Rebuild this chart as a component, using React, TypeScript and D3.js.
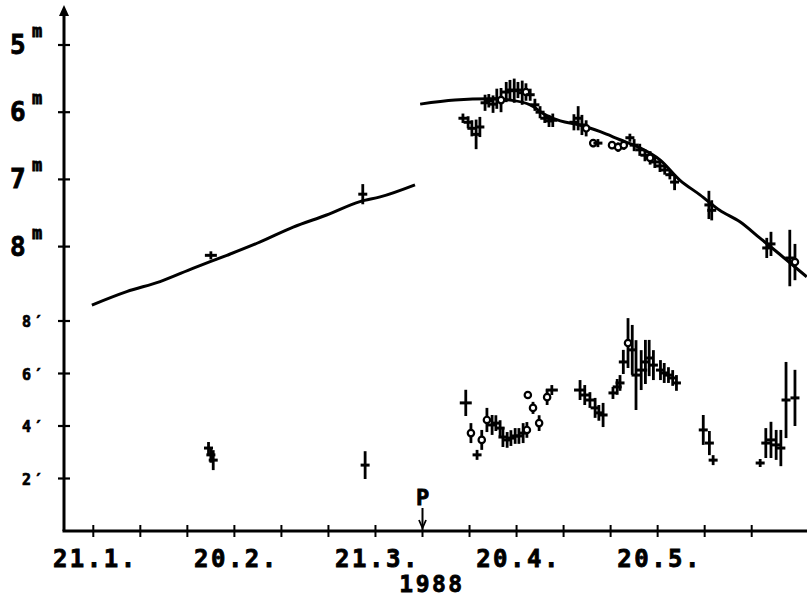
import React from "react";
import * as d3 from "d3";

// Day of year 1988 (1 = 1 Jan). Ticks every 10 days from 21 Jan.
const tickDays = [21, 31, 41, 51, 61, 71, 81, 91, 101, 111, 121, 131, 141, 151, 161];
const labelDays = [21, 51, 81, 111, 141];
const labelTexts = ["21.1.", "20.2.", "21.3.", "20.4.", "20.5."];
const perihelionDay = 91;

const magTicks = [5, 6, 7, 8];
const diamTicks = [2, 4, 6, 8];

// Fitted light curve, pre-perihelion branch
const fit1Day = [20.7, 28.1, 35.2, 42.3, 49.4, 56.5, 63.5, 70.6, 77.7, 82.0, 89.4];
const fit1Mag = [8.87, 8.67, 8.52, 8.32, 8.13, 7.93, 7.71, 7.53, 7.33, 7.26, 7.08];
// post-perihelion branch
const fit2Day = [90.5, 97.9, 105.4, 109.6, 113.9, 117.1, 120.3, 124.5, 128.8, 133.0, 137.2, 141.5, 145.7, 150.0, 154.2, 158.5, 162.7, 166.9, 172.7];
const fit2Mag = [5.88, 5.82, 5.80, 5.82, 5.89, 6.04, 6.13, 6.19, 6.29, 6.41, 6.53, 6.71, 7.01, 7.23, 7.46, 7.63, 7.87, 8.11, 8.45];

// Magnitude observations
const magDay = [46.0, 78.3, 99.6, 100.7, 101.5, 102.4, 103.2, 104.3, 105.1, 106.0, 106.8, 107.7, 108.8, 109.6, 110.5, 111.3, 112.2, 113.0, 113.9, 114.9, 116.0, 117.0, 117.9, 118.7, 123.2, 124.1, 124.9, 125.8, 127.3, 128.3, 131.3, 132.6, 133.8, 135.1, 136.0, 137.2, 138.3, 139.4, 140.4, 141.5, 142.5, 143.6, 144.6, 151.9, 152.5, 164.2, 165.1, 169.1, 170.2];
const magVal = [8.13, 7.22, 6.09, 6.15, 6.24, 6.33, 6.22, 5.86, 5.83, 5.88, 5.80, 5.82, 5.70, 5.67, 5.68, 5.67, 5.71, 5.70, 5.74, 5.89, 6.00, 6.09, 6.13, 6.12, 6.15, 6.09, 6.19, 6.24, 6.46, 6.46, 6.49, 6.52, 6.49, 6.38, 6.49, 6.56, 6.64, 6.68, 6.74, 6.80, 6.86, 6.93, 7.04, 7.38, 7.46, 8.02, 7.96, 8.17, 8.23];
const magErr = [0.06, 0.15, 0.07, 0.09, 0.12, 0.22, 0.15, 0.12, 0.10, 0.13, 0.15, 0.18, 0.15, 0.15, 0.18, 0.12, 0.18, 0.13, 0.09, 0.09, 0.09, 0.07, 0.09, 0.10, 0.12, 0.18, 0.15, 0.12, 0.06, 0.06, 0.06, 0.07, 0.07, 0.06, 0.09, 0.09, 0.09, 0.10, 0.09, 0.09, 0.07, 0.07, 0.12, 0.21, 0.15, 0.15, 0.18, 0.42, 0.27];
const magSym = "Cccccccccccocccccocccccccccoocoooccccocccccccccco";

// Coma diameter observations (arcmin)
const diamDay = [45.5, 46.0, 46.5, 78.8, 100.2, 101.3, 102.6, 103.6, 104.7, 105.8, 106.6, 107.5, 108.1, 109.0, 109.8, 110.7, 111.5, 112.4, 113.2, 113.4, 114.5, 115.8, 117.5, 118.5, 124.5, 125.5, 126.6, 127.7, 128.5, 129.4, 131.5, 132.4, 133.0, 133.7, 134.7, 135.6, 136.4, 137.5, 138.4, 139.2, 140.1, 141.6, 142.4, 143.3, 144.2, 145.0, 150.7, 152.0, 152.8, 162.8, 164.0, 165.1, 166.2, 167.2, 168.3, 170.2];
const diamVal = [3.16, 2.90, 2.70, 2.51, 4.88, 3.73, 2.90, 3.47, 4.23, 4.04, 4.11, 3.92, 3.58, 3.47, 3.54, 3.62, 3.62, 3.73, 3.85, 5.18, 4.69, 4.11, 5.10, 5.37, 5.37, 5.18, 4.99, 4.69, 4.50, 4.42, 5.26, 5.49, 5.64, 6.44, 7.16, 6.90, 5.94, 6.13, 6.44, 6.59, 6.32, 6.13, 6.02, 5.94, 5.83, 5.64, 3.85, 3.35, 2.70, 2.59, 3.35, 3.47, 3.28, 3.16, 4.99, 5.07];
const diamErr = [0.23, 0.30, 0.38, 0.53, 0.50, 0.38, 0.19, 0.38, 0.46, 0.38, 0.30, 0.30, 0.38, 0.30, 0.30, 0.30, 0.30, 0.38, 0.30, 0.15, 0.23, 0.30, 0.30, 0.19, 0.38, 0.38, 0.30, 0.38, 0.30, 0.46, 0.23, 0.30, 0.30, 0.46, 0.95, 0.95, 1.33, 0.76, 0.84, 0.69, 0.57, 0.38, 0.38, 0.30, 0.30, 0.30, 0.57, 0.46, 0.19, 0.15, 0.57, 0.69, 0.57, 0.69, 1.45, 1.07];
const diamSym = "ccccCocoocccccccccoooooCCcccccccccoccCcccccccccccccccccccC";

const FONT = "'DejaVu Sans Mono', 'Liberation Mono', monospace";

export default function App() {
  const x = d3.scaleLinear().domain([21, 161]).range([93.3, 751.7]);
  const yMag = d3.scaleLinear().domain([5, 8]).range([45, 246.6]);
  const yDiam = d3.scaleLinear().domain([0, 8]).range([531, 321]);
  const axisX = 64;
  const axisY = 531;

  const line = d3.line<[number, number]>().x((d) => x(d[0])).y((d) => yMag(d[1])).curve(d3.curveMonotoneX);
  const fit1 = line(fit1Day.map((d, i) => [d, fit1Mag[i]]) as [number, number][]) || "";
  const fit2 = line(fit2Day.map((d, i) => [d, fit2Mag[i]]) as [number, number][]) || "";

  const mark = (cx: number, cy: number, ya: number, yb: number, sym: string, key: string) => {
    const top = Math.min(ya, yb, cy - 4);
    const bot = Math.max(ya, yb, cy + 4);
    return (
      <g key={key}>
        <line x1={cx} x2={cx} y1={top} y2={bot} stroke="#000" strokeWidth={2.8} />
        {sym === "o" ? (
          <circle cx={cx} cy={cy} r={3.2} fill="#fff" stroke="#000" strokeWidth={2.2} />
        ) : (
          <line x1={cx - (sym === "C" ? 6 : 4.5)} x2={cx + (sym === "C" ? 6 : 4.5)} y1={cy} y2={cy} stroke="#000" strokeWidth={3} />
        )}
      </g>
    );
  };

  const textStyle = { fontFamily: FONT, fontWeight: "bold" as const, stroke: "#000", strokeWidth: 0.8 };

  return (
    <svg width={807} height={599} style={{ position: "fixed", left: 0, top: 0, background: "#fff" }}>
      <rect x={0} y={0} width={807} height={599} fill="#fff" />
      {/* axes */}
      <line x1={axisX} x2={axisX} y1={10} y2={axisY} stroke="#000" strokeWidth={3} />
      <path d={`M${axisX},5 L${axisX - 5},16 L${axisX + 5},16 Z`} fill="#000" />
      <line x1={axisX - 1.5} x2={807} y1={axisY} y2={axisY} stroke="#000" strokeWidth={3.2} />

      {/* x ticks */}
      {tickDays.map((d) => (
        <line key={"xt" + d} x1={x(d)} x2={x(d)} y1={axisY - 6} y2={axisY + 6} stroke="#000" strokeWidth={2} />
      ))}
      {labelDays.map((d, i) => (
        <text key={"xl" + d} x={x(d) + 2} y={567} textAnchor="middle" fontSize={24} letterSpacing={2.5} style={textStyle}>
          {labelTexts[i]}
        </text>
      ))}
      <text x={432} y={592} textAnchor="middle" fontSize={23} letterSpacing={2.5} style={textStyle}>1988</text>

      {/* perihelion */}
      <text x={x(perihelionDay)} y={505} textAnchor="middle" fontSize={22} style={textStyle}>P</text>
      <line x1={x(perihelionDay)} x2={x(perihelionDay)} y1={508} y2={527} stroke="#000" strokeWidth={2} />
      <path d={`M${x(perihelionDay) - 3.5},520 L${x(perihelionDay)},528 L${x(perihelionDay) + 3.5},520`} fill="none" stroke="#000" strokeWidth={1.8} />

      {/* magnitude ticks */}
      {magTicks.map((m) => (
        <g key={"mt" + m}>
          <line x1={axisX - 6} x2={axisX + 6} y1={yMag(m)} y2={yMag(m)} stroke="#000" strokeWidth={2.2} />
          <text x={10} y={yMag(m) + 9} fontSize={26} style={textStyle}>{m}</text>
          <text x={32} y={yMag(m) - 8} fontSize={17} style={textStyle}>m</text>
        </g>
      ))}
      {/* diameter ticks */}
      {diamTicks.map((dv) => (
        <g key={"dt" + dv}>
          <line x1={axisX - 6} x2={axisX + 6} y1={yDiam(dv)} y2={yDiam(dv)} stroke="#000" strokeWidth={2.2} />
          <text x={22} y={yDiam(dv) + 6} fontSize={15} letterSpacing={3} style={{ ...textStyle, strokeWidth: 0.7 }}>{dv + "\u2032"}</text>
        </g>
      ))}

      {/* fitted curves */}
      <path d={fit1} fill="none" stroke="#000" strokeWidth={3} />
      <path d={fit2} fill="none" stroke="#000" strokeWidth={3} />

      {/* magnitude data */}
      {magDay.map((d, i) =>
        mark(x(d), yMag(magVal[i]), yMag(magVal[i] - magErr[i]), yMag(magVal[i] + magErr[i]), magSym[i] || "c", "m" + i)
      )}
      {/* diameter data */}
      {diamDay.map((d, i) =>
        mark(x(d), yDiam(diamVal[i]), yDiam(diamVal[i] - diamErr[i]), yDiam(diamVal[i] + diamErr[i]), diamSym[i] || "c", "d" + i)
      )}
    </svg>
  );
}
